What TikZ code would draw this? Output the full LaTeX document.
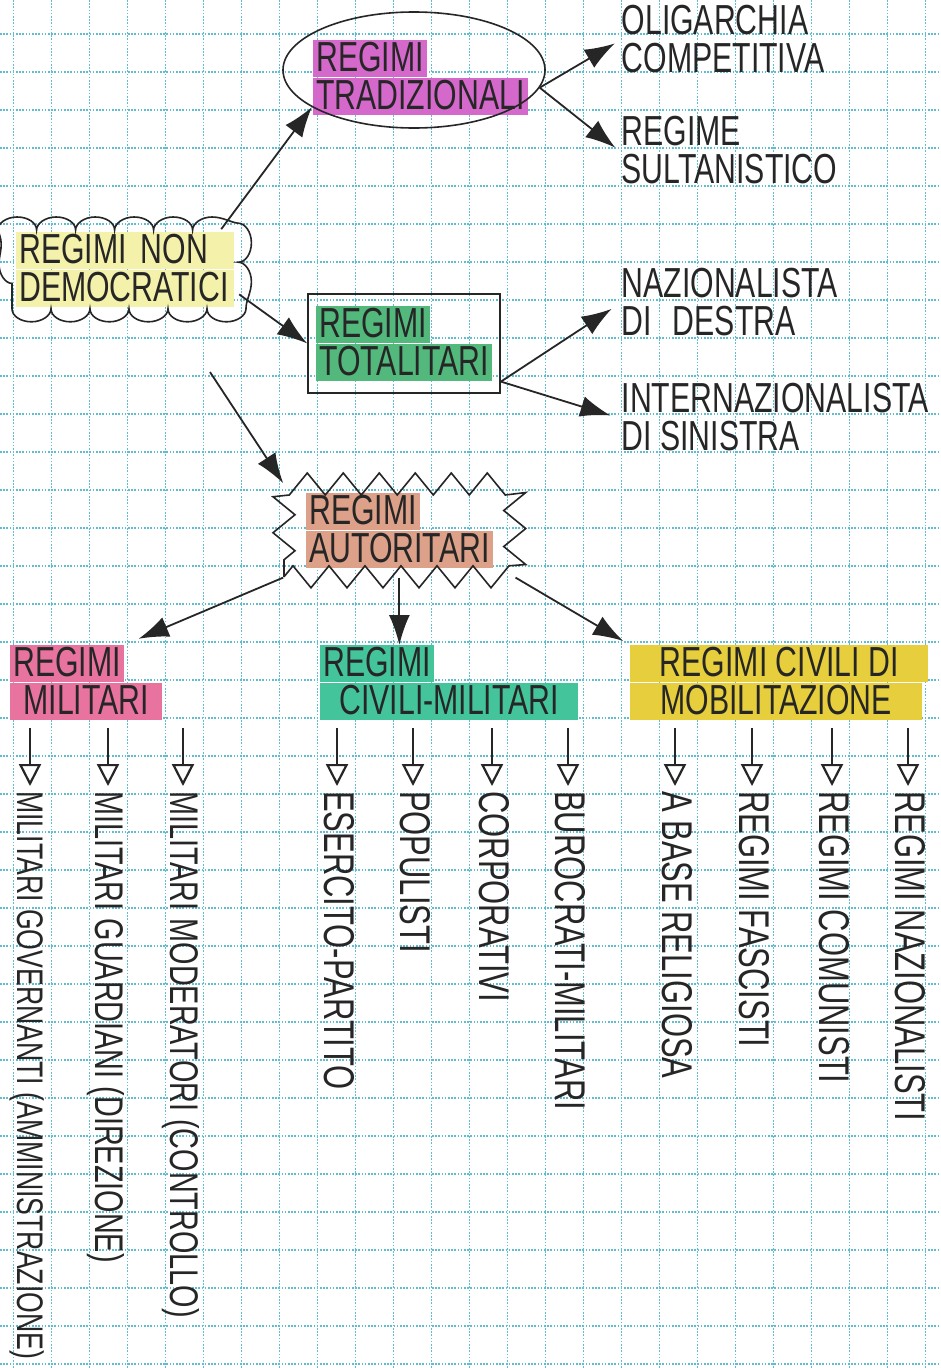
\documentclass[tikz,border=0pt]{standalone}
\usepackage{fontspec}
\newfontfamily\handfont[FakeStretch=0.72]{Liberation Sans}
\usetikzlibrary{positioning,calc,fit,shapes.geometric,decorations.pathmorphing,arrows.meta}

\definecolor{ink}{HTML}{262626}
\definecolor{gridblue}{HTML}{62BCD0}
\definecolor{hlyellow}{HTML}{F4F1AA}
\definecolor{hlmagenta}{HTML}{D468CB}
\definecolor{hlgreen}{HTML}{52B87C}
\definecolor{hlsalmon}{HTML}{DDA088}
\definecolor{hlpink}{HTML}{E8739F}
\definecolor{hlteal}{HTML}{44C49A}
\definecolor{hlgold}{HTML}{E6CE3C}

\begin{document}
\begin{tikzpicture}[x=1pt,y=-1pt,
  hand/.style={text=ink,font=\handfont\fontsize{42}{44}\selectfont,text height=30pt,text depth=4pt},
  hl/.style={hand,fill=#1,inner xsep=3pt,inner ysep=1.5pt,anchor=north west},
  txt/.style={hand,inner sep=1.5pt,anchor=north west},
  leaf/.style={hand,font=\handfont\fontsize{#1}{#1}\selectfont,inner sep=1pt,rotate=-90,anchor=west},
  leaf/.default=43,
  bigarrow/.style={draw=ink,line width=1.8pt,-{Latex[length=30pt,width=21pt]}},
  openarrow/.style={draw=ink,line width=1.8pt,-{Triangle[open,length=22pt,width=22pt,line width=2.2pt]},shorten >=4pt},
  border/.style={draw=ink,line width=1.6pt},
  gridline/.style={draw=gridblue,line width=1.1pt,dash pattern=on 1.6pt off 1.6pt}]
\useasboundingbox (0,0) rectangle (940,1368);
% squared paper
\fill[white] (0,0) rectangle (940,1368);
\foreach \gx in {0,...,24}
  \draw[gridline] (13.7+38*\gx,0) -- (13.7+38*\gx,1368);
\foreach \gy in {0,...,35}
  \draw[gridline] (0,34+38*\gy) -- (940,34+38*\gy);

% regimi non democratici
\node[hl=hlyellow,text width=212pt,align=left] (nd-a) at (16,232) {REGIMI NON};
\node[hl=hlyellow,text width=212pt,align=left] (nd-b) at (nd-a.south west) {DEMOCRATICI};
\node[border,decorate,decoration={bumps,mirror,segment length=78pt,amplitude=13pt},inner xsep=4pt,inner ysep=2pt,fit=(nd-a)(nd-b)] (nondem) {};

% regimi tradizionali
\node[hl=hlmagenta] (tr-a) at (313,40) {REGIMI};
\node[hl=hlmagenta] (tr-b) at (tr-a.south west) {TRADIZIONALI};
\node[border,ellipse,inner sep=0pt,minimum width=262pt,minimum height=116pt] (trad) at (414,70) {};
\node[txt] (olig-a) at (620,3) {OLIGARCHIA};
\node[txt] (olig-b) at (olig-a.south west) {COMPETITIVA};
\node[txt] (sult-a) at (620,114) {REGIME};
\node[txt] (sult-b) at (sult-a.south west) {SULTANISTICO};

% regimi totalitari
\node[hl=hlgreen] (tot-a) at (316,306) {REGIMI};
\node[hl=hlgreen] (tot-b) at (tot-a.south west) {TOTALITARI};
\node[border,inner xsep=8pt,inner ysep=12pt,fit=(tot-a)(tot-b)] (tot) {};
\node[txt] (naz-a) at (620,266) {NAZIONALISTA};
\node[txt] (naz-b) at (naz-a.south west) {DI\enspace DESTRA};
\node[txt] (int-a) at (620,381) {INTERNAZIONALISTA};
\node[txt] (int-b) at (int-a.south west) {DI SINISTRA};

% regimi autoritari
\node[hl=hlsalmon] (aut-a) at (306,493) {REGIMI};
\node[hl=hlsalmon] (aut-b) at (aut-a.south west) {AUTORITARI};
\node[border,decorate,decoration={zigzag,segment length=36pt,amplitude=11pt},inner xsep=22pt,inner ysep=9pt,fit=(aut-a)(aut-b)] (aut) {};
\coordinate (aut-in) at (210,372);

% sottotipi
\node[hl=hlpink] (mil-a) at (10,645) {REGIMI};
\node[hl=hlpink,minimum width=152pt] (mil-b) at (mil-a.south west) {MILITARI};
\node[hl=hlteal] (civ-a) at (320,645) {REGIMI};
\node[hl=hlteal,minimum width=258pt] (civ-b) at (civ-a.south west) {CIVILI-MILITARI};
\node[hl=hlgold,minimum width=298pt] (mob-a) at (630,645) {REGIMI CIVILI DI};
\node[hl=hlgold,minimum width=292pt] (mob-b) at (mob-a.south west) {MOBILITAZIONE};

\node[leaf=37] (gov) at (30,790) {MILITARI GOVERNANTI (AMMINISTRAZIONE)};
\node[leaf=40] (gua) at (108,790) {MILITARI GUARDIANI (DIREZIONE)};
\node[leaf=40] (mod) at (183,790) {MILITARI MODERATORI (CONTROLLO)};
\node[leaf] (ese) at (337,790) {ESERCITO-PARTITO};
\node[leaf] (pop) at (413,790) {POPULISTI};
\node[leaf] (cor) at (492,790) {CORPORATIVI};
\node[leaf] (bur) at (568,790) {BUROCRATI-MILITARI};
\node[leaf] (rel) at (675,790) {A BASE RELIGIOSA};
\node[leaf] (fas) at (752,790) {REGIMI FASCISTI};
\node[leaf] (com) at (832,790) {REGIMI COMUNISTI};
\node[leaf] (nat) at (908,790) {REGIMI NAZIONALISTI};

% frecce
\draw[bigarrow] ([xshift=-18pt]nondem.north east) -- (trad.200);
\draw[bigarrow] ([yshift=-25pt]nondem.east) -- (tot.west);
\draw[bigarrow] (aut-in) -- (aut.north west);
\draw[bigarrow,shorten >=6pt] (trad.352) -- (olig-a.south west);
\draw[bigarrow,shorten >=6pt] (trad.352) -- (sult-a.south west);
\draw[bigarrow,shorten >=10pt] ([yshift=12pt]tot.south east) -- (naz-a.south west);
\draw[bigarrow,shorten >=10pt] ([yshift=12pt]tot.south east) -- (int-a.south west);
\draw[bigarrow,shorten >=16pt] (aut.south west) -- (mil-a.north east);
\draw[bigarrow] (aut.south) -- (aut.south |- civ-a.north);
\draw[bigarrow,shorten >=8pt] (aut.south east) -- (mob-a.north west);
\foreach \lf/\hd in {gov/mil-b,gua/mil-b,mod/mil-b,ese/civ-b,pop/civ-b,cor/civ-b,bur/civ-b,rel/mob-b,fas/mob-b,com/mob-b,nat/mob-b}
  \draw[openarrow] ($(\lf.west |- \hd.south)+(0,8)$) -- (\lf.west);
\end{tikzpicture}
\end{document}
